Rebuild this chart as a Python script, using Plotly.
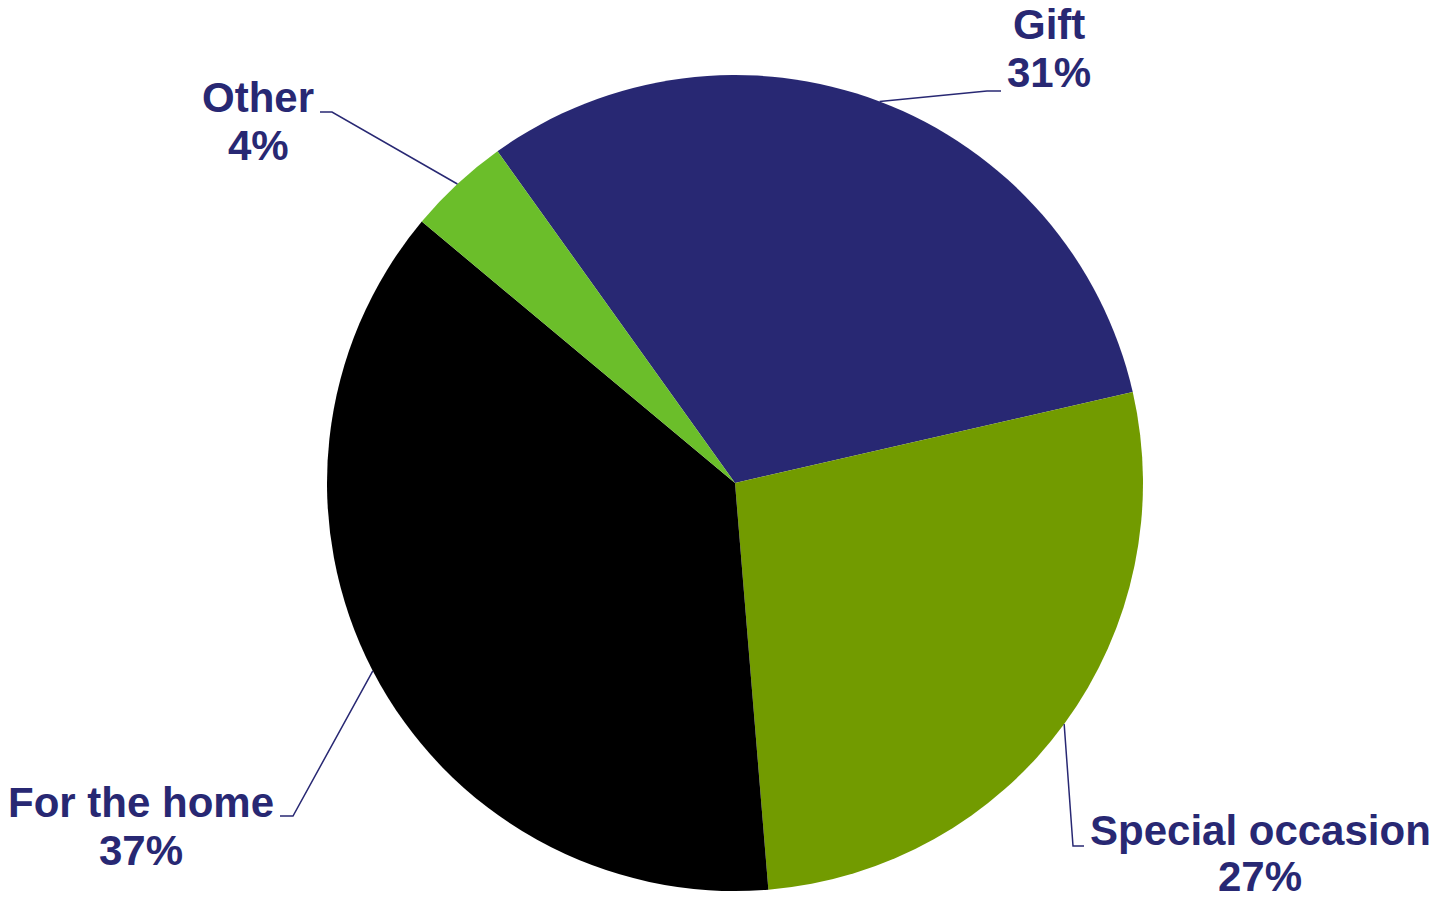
import math
import plotly.graph_objects as go

# Shares of purchases by reason
categories = ["Gift", "Special occasion", "For the home", "Other"]
values = [31, 27, 37, 4]
colors = ["#282873", "#729B00", "#000000", "#6BBE2A"]

W, H = 1436, 901
NAVY = "#282873"
FONT = "Arial, Liberation Sans, sans-serif"
FS = 42

# pie placement in pixels: centre and radius
cx_px, cy_px, r_px = 735, 483, 408
rotation = -35.6

dom_x = [(cx_px - r_px) / W, (cx_px + r_px) / W]
dom_y = [1 - (cy_px + r_px) / H, 1 - (cy_px - r_px) / H]

fig = go.Figure(go.Pie(
    labels=categories,
    values=values,
    marker=dict(colors=colors, line=dict(width=0)),
    sort=False,
    direction="clockwise",
    rotation=rotation,
    textinfo="none",
    hoverinfo="label+percent",
    domain=dict(x=dom_x, y=dom_y),
    showlegend=False,
))

def px_to_paper(x, y):
    return x / W, 1 - y / H

# label layout: text centre x, first/second line middle y, leader elbow and end
label_layout = {
    "Gift":             dict(tx=1049, ty=(25, 72),   elbow=(987, 91),   end=(1001, 91)),
    "Special occasion": dict(tx=1260, ty=(830, 876), elbow=(1073, 846), end=(1084, 846)),
    "For the home":     dict(tx=141,  ty=(802, 850), elbow=(293, 816),  end=(280, 816)),
    "Other":            dict(tx=258,  ty=(97, 146),  elbow=(332, 112),  end=(320, 112)),
}

total = sum(values)
start = rotation
annotations = []
shapes = []
for name, v in zip(categories, values):
    sweep = 360 * v / total
    mid = math.radians(start + sweep / 2)
    start += sweep
    ex = cx_px + r_px * math.sin(mid)
    ey = cy_px - r_px * math.cos(mid)
    lay = label_layout[name]
    pts = [px_to_paper(ex, ey), px_to_paper(*lay["elbow"]), px_to_paper(*lay["end"])]
    path = "M {} {} L {} {} L {} {}".format(*[c for p in pts for c in p])
    shapes.append(dict(type="path", xref="paper", yref="paper", path=path,
                       line=dict(color=NAVY, width=1.5)))
    pct = f"{round(100 * v / total)}%"
    for txt, ty in zip([name, pct], lay["ty"]):
        xp, yp = px_to_paper(lay["tx"], ty)
        annotations.append(dict(
            x=xp, y=yp, xref="paper", yref="paper",
            text=f"<b>{txt}</b>", showarrow=False,
            xanchor="center", yanchor="middle",
            font=dict(family=FONT, size=FS, color=NAVY),
        ))

fig.update_layout(
    width=W, height=H,
    margin=dict(l=0, r=0, t=0, b=0),
    paper_bgcolor="white",
    plot_bgcolor="white",
    annotations=annotations,
    shapes=shapes,
)

fig.write_html("out.html")
